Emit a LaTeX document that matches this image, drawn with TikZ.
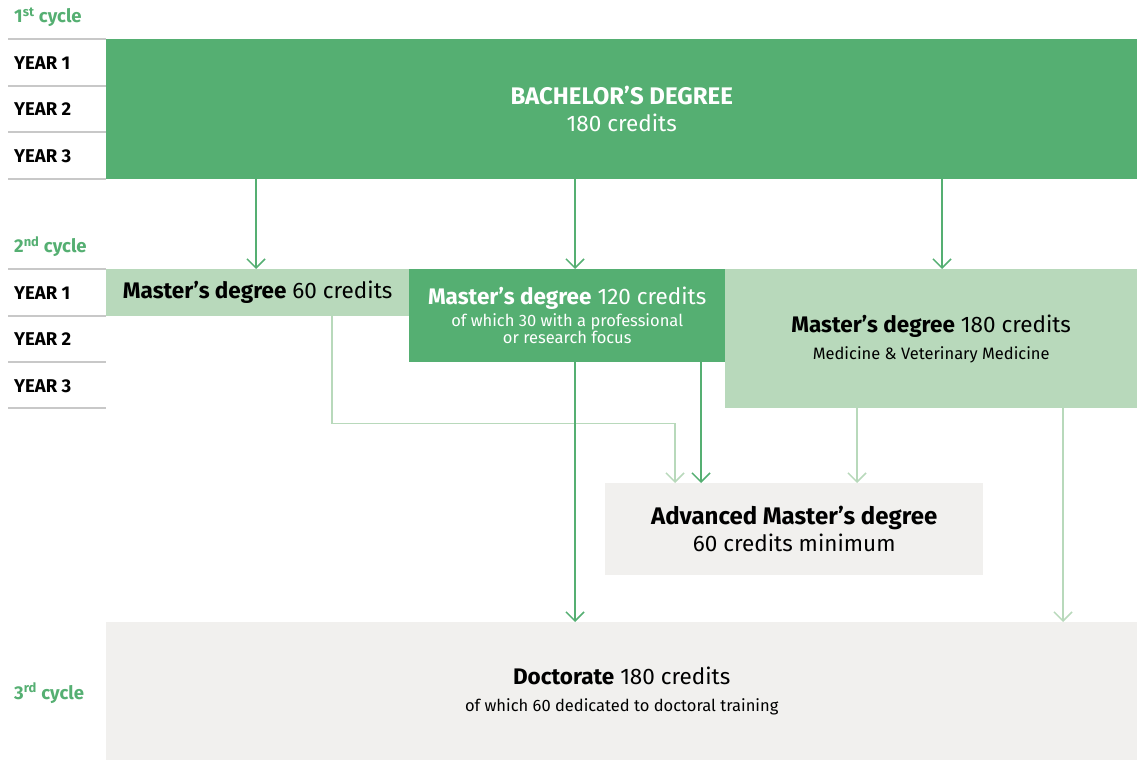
\documentclass[tikz,border=0pt]{standalone}
\usepackage{fontspec}
\setmainfont{Fira Sans}
\usetikzlibrary{arrows.meta}
\definecolor{darkgreen}{HTML}{55AF72}
\definecolor{lightgreen}{HTML}{B8D9BB}
\definecolor{paleground}{HTML}{F1F0EE}
\definecolor{rulegray}{HTML}{C8C8C8}
\newcommand\mainsize{\fontsize{22.5}{27}\selectfont}
\newcommand\headsize{\fontsize{24}{29}\selectfont}
\newcommand\subsize{\fontsize{16.5}{20}\selectfont}
\newcommand\labelsize{\fontsize{18.5}{22}\selectfont}
\begin{document}
\begin{tikzpicture}[x=1pt,y=-1pt,
    box/.style={anchor=north west,inner sep=0pt,align=center,font=\mainsize},
    year/.style={anchor=west,inner sep=0pt,font=\labelsize\bfseries},
    cycle/.style={anchor=west,inner sep=0pt,font=\labelsize\bfseries,text=darkgreen},
    arr/.style={-{Straight Barb[length=9pt,width=18pt]},line width=1.5pt,draw=darkgreen},
    arrlight/.style={arr,draw=lightgreen}]
  \useasboundingbox (0,0) rectangle (1137,760);
  % year rules
  \foreach \y in {39,86,132,179,269,316,362,408}
    \draw[rulegray,line width=1.2pt] (8,\y) -- (106,\y);
  \node[cycle] (c1) at (14,17) {1\textsuperscript{st} cycle};
  \node[cycle] (c2) at (14,247) {2\textsuperscript{nd} cycle};
  \node[cycle] (c3) at (14,693) {3\textsuperscript{rd} cycle};
  \foreach \y/\n in {63/1,109/2,156/3}
    \node[year] (first\n) at (14,\y) {YEAR \n};
  \foreach \y/\n in {293/1,339/2,386/3}
    \node[year] (second\n) at (14,\y) {YEAR \n};
  % degrees
  \node[box,fill=darkgreen,text=white,minimum width=1031pt,minimum height=140pt] (bach) at (106,39)
    {{\headsize\bfseries BACHELOR’S DEGREE}\\180 credits};
  \node[box,fill=lightgreen,minimum width=303pt,minimum height=47pt] (m60) at (106,269)
    {\textbf{Master’s degree} 60 credits};
  \node[box,fill=darkgreen,text=white,minimum width=316pt,minimum height=93pt] (m120) at (409,269)
    {\textbf{Master’s degree} 120 credits\\[-5pt]\subsize of which 30 with a professional\\[-10pt]\subsize or research focus};
  \node[box,fill=lightgreen,minimum width=412pt,minimum height=139pt] (m180) at (725,269)
    {\textbf{Master’s degree} 180 credits\\\subsize Medicine \& Veterinary Medicine};
  \node[box,fill=paleground,minimum width=378pt,minimum height=92pt] (adv) at (605,483)
    {{\headsize\bfseries Advanced Master’s degree}\\60 credits minimum};
  \node[box,fill=paleground,minimum width=1031pt,minimum height=138pt] (doc) at (106,622)
    {\textbf{Doctorate} 180 credits\\\subsize of which 60 dedicated to doctoral training};
  % paths
  \draw[arr] (bach.south -| 256,0) -- (m60.north -| 256,0);
  \draw[arr] (bach.south -| 575,0) -- (m120.north -| 575,0);
  \draw[arr] (bach.south -| 942,0) -- (m180.north -| 942,0);
  \draw[arrlight] (m60.south -| 332,0) -- ++(0,107) -| (adv.north -| 675,0);
  \draw[arr] (m120.south -| 575,0) -- (doc.north -| 575,0);
  \draw[arr] (m120.south -| 701,0) -- (adv.north -| 701,0);
  \draw[arrlight] (m180.south -| 857,0) -- (adv.north -| 857,0);
  \draw[arrlight] (m180.south -| 1063,0) -- (doc.north -| 1063,0);
\end{tikzpicture}
\end{document}
